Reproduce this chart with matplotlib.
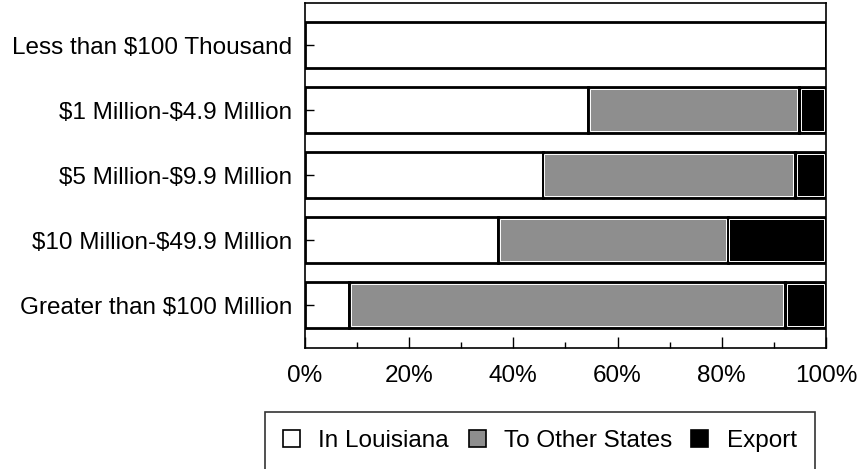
import numpy as np
import matplotlib
matplotlib.use('Agg')
import matplotlib.pyplot as plt
from matplotlib.patches import Patch

plt.rcParams['font.family'] = ['Liberation Sans', 'DejaVu Sans']

# Chart data (percent of sales)
categories = ['Less than \\$100 Thousand', '\\$1 Million-\\$4.9 Million', '\\$5 Million-\\$9.9 Million',
              '\\$10 Million-\\$49.9 Million', 'Greater than \\$100 Million']
in_louisiana = [100.0, 54.3, 45.6, 37.0, 8.5]
other_states = [0.0, 40.5, 48.5, 44.1, 83.6]
export = [0.0, 5.2, 5.9, 18.9, 7.9]
series_names = ['In Louisiana', 'To Other States', 'Export']
colors = ['white', '#8e8e8e', 'black']
x_ticks = [0, 20, 40, 60, 80, 100]

fig = plt.figure(figsize=(8.62, 4.69), dpi=100)
ax = fig.add_axes([0.3538, 0.258, 0.6044, 0.7356])

bar_h = 0.72
y = np.arange(len(categories))
left = np.zeros(len(categories))
for vals, col in zip([in_louisiana, other_states, export], colors):
    vals = np.array(vals)
    ax.barh(y, vals, left=left, height=bar_h, color=col, edgecolor='black', linewidth=2)
    if col != 'white':
        # thin light inner line, like the old spreadsheet rendering
        w = np.where(vals > 0, vals - 0.7, 0)
        ax.barh(y, w, left=left + 0.35, height=bar_h - 0.07, facecolor='none',
                edgecolor='white', linewidth=0.7)
    left = left + vals

ax.set_xlim(0, 100)
ax.set_ylim(4.66, -0.646)
ax.set_yticks(y)
ax.set_yticklabels(categories, fontsize=17.5)
ax.set_xticks(x_ticks)
ax.set_xticklabels([f'{t}%' for t in x_ticks], fontsize=17.5)
ax.set_xticks(np.arange(10, 100, 20), minor=True)
ax.tick_params(axis='x', which='major', direction='in', length=8, width=1, pad=12)
ax.tick_params(axis='x', which='minor', direction='in', length=4, width=1)
ax.tick_params(axis='y', direction='in', length=6.5, width=1, pad=9)
for s in ax.spines.values():
    s.set_linewidth(1.2)

handles = [Patch(facecolor=c, edgecolor='black', linewidth=1.2) for c in colors]
leg = fig.legend(handles, series_names, loc='upper left', bbox_to_anchor=(265 / 862, 1 - 412 / 469),
                 ncol=3, fontsize=17.5, frameon=True, fancybox=False, shadow=False,
                 handlelength=0.7, handleheight=0.7, handletextpad=0.75, columnspacing=0.8,
                 borderpad=0.75, borderaxespad=0)
leg.get_frame().set_edgecolor('black')
leg.get_frame().set_linewidth(1.2)

fig.savefig('out.png', dpi=100)
